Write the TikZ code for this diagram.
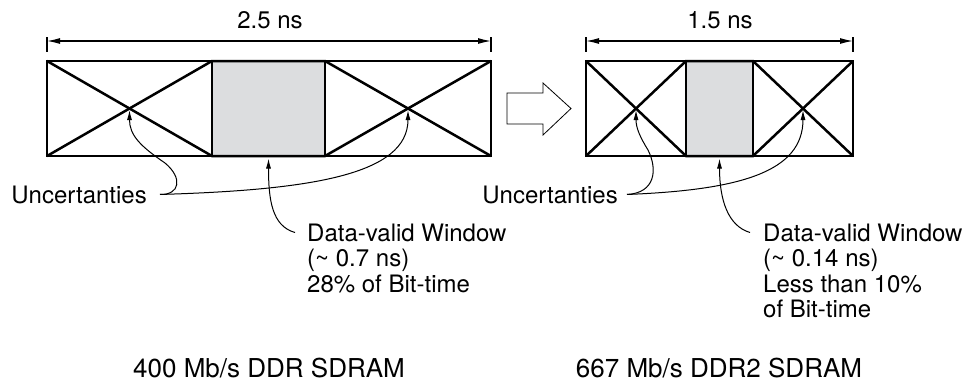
\documentclass[tikz,border=0pt]{standalone}
\usepackage{fontspec}
\setmainfont{TeX Gyre Heros}
\usetikzlibrary{arrows.meta}
\definecolor{windowgray}{HTML}{DCDDDF}

\begin{document}
\begin{tikzpicture}[x=1pt, y=-1pt,
  thinline/.style={line width=1.2pt},
  eyeline/.style={line width=2.5pt, line join=miter},
  dimline/.style={line width=1.2pt, {Latex[length=13pt,width=6pt]}-{Latex[length=13pt,width=6pt]}},
  callout/.style={line width=1pt, -{Latex[length=10pt,width=5pt]}, shorten >=1.5pt},
  lbl/.style={font=\fontsize{24}{25.5}\selectfont, inner sep=0pt},
  caption/.style={font=\fontsize{26}{28}\selectfont, inner sep=0pt}]
\useasboundingbox (0,0) rectangle (972,383);

% 400 Mb/s eye
\fill[windowgray] (212,61) rectangle (325,156);
\draw[thinline] (47,61) rectangle (491,156);
\draw[thinline] (212,61) -- (212,156) (325,61) -- (325,156);
\draw[eyeline] (47,61) -- (212,156) -- (325,156) -- (491,61);
\draw[eyeline] (47,156) -- (212,61) -- (325,61) -- (491,156);
\coordinate (cross1a) at (129.5,108.5);
\coordinate (cross1b) at (408,108.5);
\coordinate (win1) at (268.5,157);

% 667 Mb/s eye
\fill[windowgray] (686,61) rectangle (753,156);
\draw[thinline] (586,61) rectangle (853,156);
\draw[thinline] (686,61) -- (686,156) (753,61) -- (753,156);
\draw[eyeline] (586,61) -- (686,156) -- (753,156) -- (853,61);
\draw[eyeline] (586,156) -- (686,61) -- (753,61) -- (853,156);
\coordinate (cross2a) at (636,108.5);
\coordinate (cross2b) at (803,108.5);
\coordinate (win2) at (719.5,157);

% bit-time dimensions
\coordinate (dim1l) at (47,41);
\coordinate (dim1r) at (491,41);
\coordinate (dim2l) at (586,41);
\coordinate (dim2r) at (853,41);
\draw[thinline] (47,37) -- (47,52) (491,37) -- (491,52);
\draw[thinline] (586,37) -- (586,52) (853,37) -- (853,52);
\draw[dimline] (dim1l) -- (dim1r);
\draw[dimline] (dim2l) -- (dim2r);
\node[lbl, anchor=base] (bit1) at (270,28) {2.5 ns};
\node[lbl, anchor=base] (bit2) at (720,28) {1.5 ns};

% block arrow
\draw[line width=0.8pt, fill=white] (507,93) -- (543,93) -- (543,83) -- (571,108.5)
  -- (543,135) -- (543,124) -- (507,124) -- cycle;

% labels
\node[lbl, anchor=base east] (unc1) at (147,203) {Uncertanties};
\node[lbl, anchor=base east] (unc2) at (618,203) {Uncertanties};
\node[lbl, anchor=north west, align=left] (dv1) at (307,223.5)
  {Data-valid Window\\(\textasciitilde{} 0.7 ns)\\28\% of Bit-time};
\node[lbl, anchor=north west, align=left] (dv2) at (763,223.5)
  {Data-valid Window\\(\textasciitilde{} 0.14 ns)\\Less than 10\%\\of Bit-time};
\node[caption, anchor=base] (rate1) at (269,377) {400 Mb/s DDR SDRAM};
\node[caption, anchor=base] (rate2) at (719,377) {667 Mb/s DDR2 SDRAM};
\coordinate (unc1-tail) at ([xshift=13pt]unc1.east);
\coordinate (unc2-tail) at ([xshift=9pt]unc2.east);
\coordinate (dv1-tail) at ([shift={(-12,9)}]dv1.north west);
\coordinate (dv2-tail) at ([shift={(-13,9)}]dv2.north west);

% callouts
\draw[callout] (unc1-tail) .. controls (180,195) and (183,178) .. (165,163)
  .. controls (140,146) and (129.5,135) .. (cross1a);
\draw[callout] (unc1-tail) .. controls (310,190) and (408,175) .. (cross1b);
\draw[callout] (dv1-tail) .. controls (272,226) and (268.5,200) .. (win1);
\draw[callout] (unc2-tail) .. controls (655,193) and (658,170) .. (648,150)
  .. controls (640,137) and (636,128) .. (cross2a);
\draw[callout] (unc2-tail) .. controls (740,190) and (803,172) .. (cross2b);
\draw[callout] (dv2-tail) .. controls (728,226) and (719.5,200) .. (win2);
\end{tikzpicture}
\end{document}
